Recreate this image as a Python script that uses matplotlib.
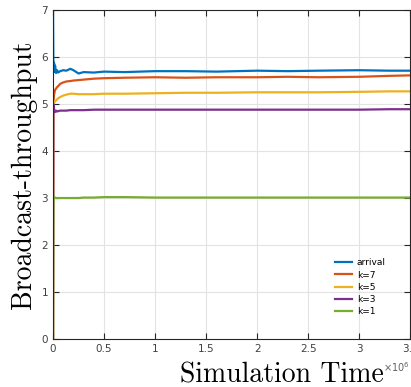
import matplotlib.pyplot as plt

# simulation time in units of 1e6
t = [0, 0.003, 0.006, 0.01, 0.015, 0.02, 0.03, 0.04, 0.05, 0.07, 0.1, 0.13,
     0.17, 0.2, 0.25, 0.3, 0.4, 0.5, 0.7, 1.0, 1.3, 1.6, 2.0, 2.3, 2.6, 3.0, 3.3, 3.5]

arrival = [7.0, 5.95, 5.75, 5.88, 5.68, 5.82, 5.66, 5.72, 5.67, 5.7, 5.72, 5.71,
           5.75, 5.72, 5.65, 5.68, 5.67, 5.69, 5.68, 5.7, 5.7, 5.69, 5.71, 5.7, 5.71, 5.72, 5.71, 5.71]
k7 = [0.0, 5.02, 5.1, 5.2, 5.25, 5.3, 5.33, 5.36, 5.38, 5.43, 5.46, 5.48,
      5.49, 5.5, 5.51, 5.52, 5.54, 5.55, 5.56, 5.57, 5.56, 5.57, 5.57, 5.58, 5.57, 5.58, 5.6, 5.61]
k5 = [0.0, 4.95, 4.98, 5.02, 5.04, 5.06, 5.08, 5.1, 5.12, 5.15, 5.18, 5.2,
      5.22, 5.22, 5.21, 5.21, 5.21, 5.22, 5.22, 5.23, 5.24, 5.24, 5.25, 5.25, 5.25, 5.26, 5.27, 5.27]
k3 = [0.0, 5.0, 4.95, 4.9, 4.85, 4.83, 4.86, 4.84, 4.85, 4.86, 4.86, 4.86,
      4.87, 4.87, 4.87, 4.87, 4.88, 4.88, 4.88, 4.88, 4.88, 4.88, 4.88, 4.88, 4.88, 4.88, 4.89, 4.89]
k1 = [0.0, 2.95, 3.02, 3.0, 3.0, 3.01, 3.0, 3.0, 3.0, 3.0, 3.0, 3.0,
      3.0, 3.0, 3.0, 3.01, 3.01, 3.02, 3.02, 3.01, 3.01, 3.01, 3.01, 3.01, 3.01, 3.01, 3.01, 3.01]

labels = ['arrival', 'k=7', 'k=5', 'k=3', 'k=1']
colors = ['#0072BD', '#D95319', '#EDB120', '#7E2F8E', '#77AC30']

xticks = [0, 0.5, 1, 1.5, 2, 2.5, 3, 3.5]
xticklabels = ['0', '0.5', '1', '1.5', '2', '2.5', '3', '3.5']
yticks = [0, 1, 2, 3, 4, 5, 6, 7]

fig = plt.figure(figsize=(4.11, 3.87), dpi=100)
ax = fig.add_axes([0.129, 0.124, 0.869, 0.850])

for series, lab, col in zip([arrival, k7, k5, k3, k1], labels, colors):
    ax.plot(t, series, color=col, lw=1.6, label=lab)

ax.set_xlim(0, 3.5)
ax.set_ylim(0, 7)
ax.set_xticks(xticks)
ax.set_xticklabels(xticklabels)
ax.set_yticks(yticks)
ax.grid(True, color='#e3e3e3', lw=0.8)
ax.set_axisbelow(True)
ax.tick_params(direction='in', length=4, width=0.8, colors='#262626',
               labelcolor='#404040', labelsize=7.5, top=True, right=True)
for sp in ax.spines.values():
    sp.set_color('#262626')
    sp.set_linewidth(0.8)

ax.set_ylabel('Broadcast-throughput', family='cmr10', fontsize=20, labelpad=3)
ax.set_xlabel('Simulation Time', family='cmr10', fontsize=20)
ax.xaxis.set_label_coords(0.64, -0.07)
fig.text(0.932, 0.04, r'$\times10^{6}$', fontsize=7, color='#606060')

leg = ax.legend(loc='lower right', bbox_to_anchor=(0.955, 0.045), fontsize=6.5,
                frameon=False, handlelength=1.8, labelspacing=0.35, handletextpad=0.6)

fig.savefig('out.png', dpi=100)
